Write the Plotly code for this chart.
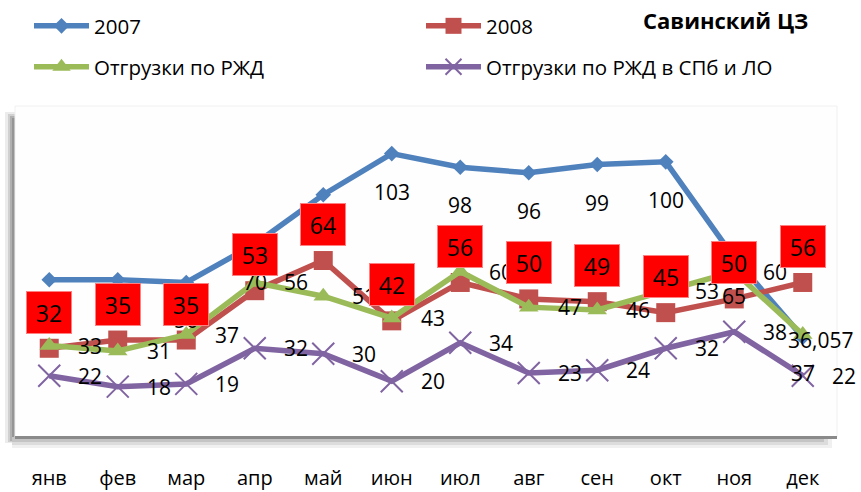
import plotly.graph_objects as go

months = ["янв", "фев", "мар", "апр", "май", "июн", "июл", "авг", "сен", "окт", "ноя", "дек"]
s2007 = [57, 57, 56, 70, 88, 103, 98, 96, 99, 100, 65, 36.057]
s2008 = [32, 35, 35, 53, 64, 42, 56, 50, 49, 45, 50, 56]
rzd = [33, 31, 37, 56, 51, 43, 60, 47, 46, 53, 60, 37]
rzd_spb = [22, 18, 19, 32, 30, 20, 34, 23, 24, 32, 38, 22]

names = ["2007", "2008", "Отгрузки по РЖД", "Отгрузки по РЖД в СПб и ЛО"]
colors = ["#4F81BD", "#C0504D", "#9BBB59", "#8064A2"]

FONT = "Open Sans"
W, H = 861, 492
L, R, T, B = 15, 24, 107, 56
PW, PH = W - L - R, H - T - B


def px(x):
    return (x - L) / PW


def py(y):
    return (H - B - y) / PH


def fmt(v):
    s = ("%g" % v)
    return s.replace(".", ",")


fig = go.Figure()
series = [
    (s2007, "diamond", 12, dict(), "legend"),
    (s2008, "square", 19, dict(), "legend"),
    (rzd, "triangle-up", 17, dict(), "legend2"),
    (rzd_spb, "x-thin", 22, dict(line=dict(width=2, color=colors[3])), "legend2"),
]
for i, (vals, sym, size, extra, lg) in enumerate(series):
    fig.add_trace(go.Scatter(
        x=months, y=vals, name=names[i], mode="lines+markers",
        line=dict(color=colors[i], width=5.5),
        marker=dict(symbol=sym, size=size, color=colors[i], **extra),
        legend=lg, cliponaxis=False, hoverinfo="skip",
    ))

ann = []
# 2007 labels: below the point
for i, v in enumerate(s2007):
    if i == len(s2007) - 1:
        ann.append(dict(x=months[i], y=v, text=fmt(v), showarrow=False, xanchor="left",
                        xshift=-17, yshift=-3, font=dict(size=21, color="black", family=FONT)))
    else:
        ann.append(dict(x=months[i], y=v, text=fmt(v), showarrow=False,
                        yshift=-38, font=dict(size=21, color="black", family=FONT)))
# РЖД labels: right of the point (last one below)
for i, v in enumerate(rzd):
    if i == len(rzd) - 1:
        ann.append(dict(x=months[i], y=v, text=fmt(v), showarrow=False,
                        yshift=-38, font=dict(size=21, color="black", family=FONT)))
    else:
        ann.append(dict(x=months[i], y=v, text=fmt(v), showarrow=False, xanchor="left",
                        xshift=27, font=dict(size=21, color="black", family=FONT)))
for i, v in enumerate(rzd_spb):
    ann.append(dict(x=months[i], y=v, text=fmt(v), showarrow=False, xanchor="left",
                    xshift=27, font=dict(size=21, color="black", family=FONT)))
# 2008 labels: red boxes above
for i, v in enumerate(s2008):
    ann.append(dict(x=months[i], y=v, text=fmt(v), showarrow=False, yshift=36,
                    bgcolor="#FF0000", bordercolor="#FF8080", borderwidth=1, borderpad=2,
                    width=40, height=37, font=dict(size=23, color="black", family=FONT)))

ann.append(dict(xref="paper", yref="paper", x=px(725), y=py(20), xanchor="center", yanchor="middle",
                text="<b>Савинский ЦЗ</b>",
                showarrow=False, font=dict(size=22, color="black", family=FONT)))

shapes = []
# left shadow
for k, (x0, c) in enumerate([(5, "#ececec"), (8, "#d0d0d0"), (10, "#b0b0b0"), (12, "#959595")]):
    shapes.append(dict(type="rect", xref="paper", yref="paper", x0=px(x0), x1=px(15),
                       y0=py(443 - k), y1=py(112 + 2 * k), fillcolor=c, line=dict(width=0), layer="below"))
# bottom shadow
for k, (y1, c) in enumerate([(448, "#f0f0f0"), (445, "#dcdcdc"), (442, "#c4c4c4")]):
    shapes.append(dict(type="rect", xref="paper", yref="paper", x0=px(12), x1=px(832 - 4 * k),
                       y0=py(y1), y1=py(437), fillcolor=c, line=dict(width=0), layer="below"))
# frame
shapes.append(dict(type="rect", xref="paper", yref="paper", x0=px(15), x1=px(837), y0=py(437), y1=py(106),
                   fillcolor="#fefefe", line=dict(color="#f0f0f0", width=1), layer="below"))
shapes.append(dict(type="line", xref="paper", yref="paper", x0=px(15), x1=px(837), y0=py(437.5), y1=py(437.5),
                   line=dict(color="#8a8a8a", width=3), layer="below"))

legend_common = dict(orientation="h", xanchor="left", yanchor="middle", x=px(29),
                     font=dict(size=20.5, color="black", family=FONT), itemwidth=55,
                     entrywidth=322, bgcolor="rgba(0,0,0,0)", traceorder="normal")
fig.update_layout(
    width=W, height=H, margin=dict(l=L, r=R, t=T, b=B, autoexpand=False),
    paper_bgcolor="white", plot_bgcolor="rgba(0,0,0,0)",
    font=dict(family=FONT, color="black"),
    xaxis=dict(type="category", categoryorder="array", categoryarray=months, range=[-0.5, 11.5],
               showgrid=False, zeroline=False, showline=False, ticks="", automargin=False,
               ticklabelstandoff=28, tickfont=dict(size=20, color="black", family=FONT)),
    yaxis=dict(range=[0, 120], visible=False, automargin=False),
    legend=dict(y=py(26), **legend_common),
    legend2=dict(y=py(67), **legend_common),
    annotations=ann, shapes=shapes, showlegend=True,
)
fig.write_html("out.html", config={"displayModeBar": False},
               post_script="document.body.style.margin='0px';document.body.style.overflow='hidden';")
